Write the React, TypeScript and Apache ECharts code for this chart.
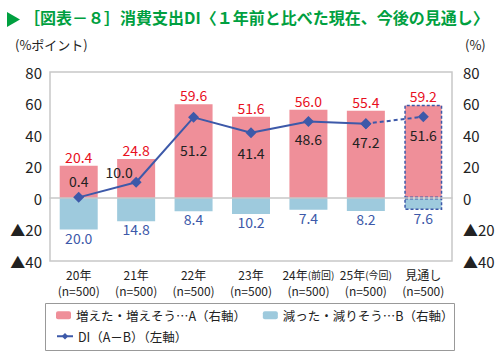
import React, { useEffect, useRef } from "react";
import * as echarts from "echarts";

const categories = [
  "20年\n(n=500)",
  "21年\n(n=500)",
  "22年\n(n=500)",
  "23年\n(n=500)",
  "24年{s|(前回)}\n(n=500)",
  "25年{s|(今回)}\n(n=500)",
  "見通し\n(n=500)",
];
const increase = [20.4, 24.8, 59.6, 51.6, 56.0, 55.4, 59.2];
const decrease = [20.0, 14.8, 8.4, 10.2, 7.4, 8.2, 7.6];
const di = [0.4, 10.0, 51.2, 41.4, 48.6, 47.2, 51.6];
const forecastIndex = 6;

const nameA = "増えた・増えそう…A（右軸）";
const nameB = "減った・減りそう…B（右軸）";
const nameDI = "DI（A－B）（左軸）";

const FONT = "'Noto Sans CJK JP', 'Noto Sans', sans-serif";
const PINK = "#ef8f99";
const LIGHTBLUE = "#9ecadd";
const NAVY = "#3d59a9";
const GREEN = "#00a040";

const diLabelStyles: any[] = [
  { position: "top", distance: 4 },
  { position: "top", distance: 4, offset: [-17, 6] },
  { position: "bottom", distance: 20 },
  { position: "bottom", distance: 8 },
  { position: "bottom", distance: 5 },
  { position: "bottom", distance: 6 },
  { position: "bottom", distance: 6 },
];

const fmtAxis = (v: number) => (v < 0 ? "▲" + Math.abs(v) : String(v));

export default function App() {
  const ref = useRef<HTMLDivElement>(null);
  useEffect(() => {
    if (!ref.current) return;
    document.body.style.margin = "0";
    const chart = echarts.init(ref.current, undefined, { renderer: "svg" });
    const forecastBorder = {
      borderColor: NAVY,
      borderWidth: 1.5,
      borderType: [3, 2],
    };
    const option: any = {
      animation: false,
      textStyle: { fontFamily: FONT },
      grid: {
        left: 50,
        right: 48,
        top: 72,
        bottom: 97,
        containLabel: false,
        outerBoundsMode: "none",
        show: true,
        borderColor: "#c8c8c8",
        borderWidth: 1.5,
        backgroundColor: "transparent",
      },
      graphic: [
        {
          type: "polygon",
          shape: { points: [[7, 12], [20, 19.5], [7, 27]] },
          style: { fill: GREEN },
        },
        {
          type: "text",
          left: 24,
          top: 9,
          style: {
            text: "［図表－８］消費支出DI〈１年前と比べた現在、今後の見通し〉",
            fill: GREEN,
            font: `bold 16px ${FONT}`,
          },
        },
        {
          type: "text",
          left: 15,
          top: 38,
          style: { text: "(%ポイント)", fill: "#222", font: `13px ${FONT}` },
        },
        {
          type: "text",
          left: 465,
          top: 38,
          style: { text: "(%)", fill: "#222", font: `13px ${FONT}` },
        },
        {
          type: "rect",
          shape: { x: 45.5, y: 303.5, width: 409, height: 47 },
          style: { fill: "none", stroke: "#999", lineWidth: 1 },
        },
      ],
      legend: [
        {
          data: [nameA, nameB],
          left: 56,
          top: 309,
          padding: 0,
          itemWidth: 15,
          itemHeight: 8,
          itemGap: 16,
          textStyle: { fontSize: 12.5, color: "#222", fontFamily: FONT },
        },
        {
          data: [nameDI],
          left: 56,
          top: 330,
          padding: 0,
          itemWidth: 16,
          itemHeight: 8,
          textStyle: { fontSize: 12.5, color: "#222", fontFamily: FONT },
        },
      ],
      xAxis: {
        type: "category",
        data: categories,
        axisTick: { show: false },
        axisLine: { show: true, onZero: true, lineStyle: { color: "#c8c8c8", width: 1.5 } },
        axisLabel: {
          color: "#222",
          fontSize: 12,
          lineHeight: 16,
          margin: 5,
          interval: 0,
          fontFamily: FONT,
          rich: {
            s: { fontSize: 10, color: "#222", fontFamily: FONT, lineHeight: 16 },
          },
        },
        z: 5,
      },
      yAxis: [
        {
          type: "value",
          min: -40,
          max: 80,
          interval: 20,
          position: "left",
          splitLine: { show: false },
          axisLine: { show: false },
          axisTick: { show: false },
          axisLabel: { formatter: fmtAxis, color: "#222", fontSize: 15, margin: 8, fontFamily: FONT },
        },
        {
          type: "value",
          min: -40,
          max: 80,
          interval: 20,
          position: "right",
          splitLine: { show: false },
          axisLine: { show: false },
          axisTick: { show: false },
          axisLabel: { formatter: fmtAxis, color: "#222", fontSize: 15, margin: 11, fontFamily: FONT },
        },
      ],
      series: [
        {
          name: nameA,
          type: "bar",
          yAxisIndex: 1,
          stack: "ab",
          barWidth: 38,
          itemStyle: { color: PINK },
          data: increase.map((v, i) => ({
            value: v,
            itemStyle: i === forecastIndex ? forecastBorder : undefined,
          })),
          label: {
            show: true,
            position: "top",
            distance: 2,
            color: "#e8101e",
            fontSize: 14,
            fontFamily: FONT,
            formatter: (p: any) => Number(p.value).toFixed(1),
          },
        },
        {
          name: nameB,
          type: "bar",
          yAxisIndex: 1,
          stack: "ab",
          barWidth: 38,
          itemStyle: { color: LIGHTBLUE },
          data: decrease.map((v, i) => ({
            value: -v,
            itemStyle: i === forecastIndex ? forecastBorder : undefined,
          })),
          label: {
            show: true,
            position: "bottom",
            distance: 1,
            color: "#3d59a9",
            fontSize: 14,
            fontFamily: FONT,
            formatter: (p: any) => Math.abs(Number(p.value)).toFixed(1),
          },
        },
        {
          name: nameDI,
          type: "line",
          yAxisIndex: 0,
          z: 10,
          symbol: "diamond",
          symbolSize: 11,
          itemStyle: { color: NAVY },
          lineStyle: { color: NAVY, width: 2 },
          data: di.map((v, i) => ({
            value: i < forecastIndex ? v : null,
            label: diLabelStyles[i],
          })),
          label: {
            show: true,
            color: "#222",
            fontSize: 14,
            fontFamily: FONT,
            formatter: (p: any) => Number(p.value).toFixed(1),
          },
        },
        {
          name: nameDI + "(見通し)",
          type: "line",
          yAxisIndex: 0,
          z: 9,
          symbol: "diamond",
          symbolSize: 11,
          itemStyle: { color: NAVY },
          lineStyle: { color: NAVY, width: 2, type: [4, 3] },
          data: di.map((v, i) => ({
            value: i >= forecastIndex - 1 ? v : null,
            label: { ...diLabelStyles[i], show: i === forecastIndex },
          })),
          label: {
            show: true,
            color: "#222",
            fontSize: 14,
            fontFamily: FONT,
            formatter: (p: any) => Number(p.value).toFixed(1),
          },
        },
      ],
    };
    chart.setOption(option);
    return () => chart.dispose();
  }, []);
  return <div ref={ref} style={{ width: 500, height: 358 }} />;
}
